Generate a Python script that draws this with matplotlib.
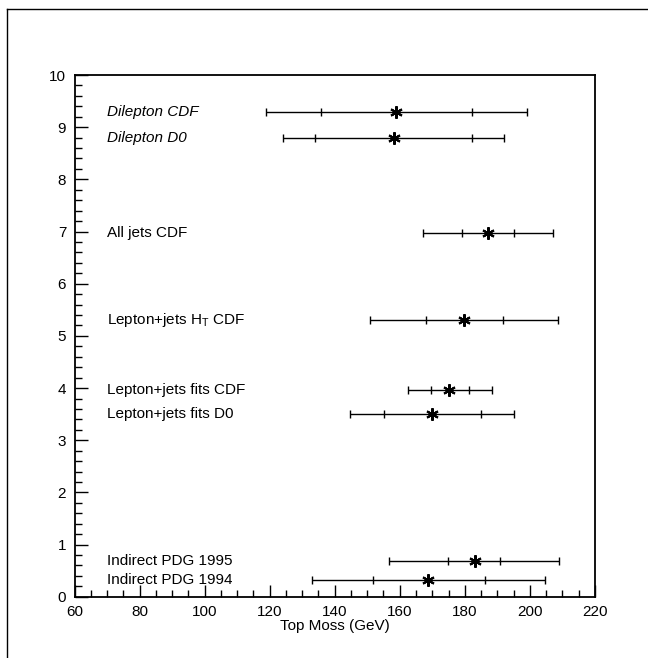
import matplotlib.pyplot as plt
from matplotlib.lines import Line2D
from matplotlib.ticker import MultipleLocator

plt.rcParams['font.family'] = ['Liberation Sans', 'DejaVu Sans']

# top mass measurements: central value, inner (stat) and outer (total) errors
labels = ['Dilepton CDF', 'Dilepton D0', 'All jets CDF',
          'Lepton+jets H$_\\mathregular{T}$ CDF',
          'Lepton+jets fits CDF', 'Lepton+jets fits D0',
          'Indirect PDG 1995', 'Indirect PDG 1994']
label_style = ['italic', 'italic', 'normal', 'normal',
               'normal', 'normal', 'normal', 'normal']
y_pos = [9.3, 8.8, 6.98, 5.3, 3.97, 3.5, 0.68, 0.32]
mass = [159.0, 158.2, 187.2, 179.8, 175.3, 170.0, 183.0, 168.8]
inner_lo = [135.9, 134.0, 179.0, 168.0, 169.7, 155.1, 174.9, 151.8]
inner_hi = [182.1, 182.1, 195.1, 191.8, 181.2, 185.0, 190.8, 186.2]
outer_lo = [118.8, 124.0, 167.0, 150.8, 162.6, 144.8, 156.8, 133.1]
outer_hi = [199.2, 192.1, 207.1, 208.8, 188.4, 195.1, 208.9, 204.6]

fig = plt.figure(figsize=(6.48, 6.58), dpi=100)
ax = fig.add_axes([0.115, 0.093, 0.803, 0.793])

for i in range(len(labels)):
    y = y_pos[i]
    m = mass[i]
    ax.errorbar([m], [y], xerr=[[m - outer_lo[i]], [outer_hi[i] - m]],
                fmt='none', ecolor='black', elinewidth=1.0, capsize=3, capthick=1.0)
    ax.plot([inner_lo[i], inner_hi[i]], [y, y], '|', color='black', ms=6, mew=1.0)
    ax.plot([m], [y], marker=(6, 2, 0), color='black', ms=9, mew=1.5)
    ax.text(70, y, labels[i], fontsize=11, style=label_style[i],
            ha='left', va='center')

ax.set_xlim(60, 220)
ax.set_ylim(0, 10)
ax.xaxis.set_major_locator(MultipleLocator(20))
ax.xaxis.set_minor_locator(MultipleLocator(5))
ax.yaxis.set_major_locator(MultipleLocator(1))
ax.yaxis.set_minor_locator(MultipleLocator(0.2))
ax.tick_params(which='both', direction='in', top=False, right=False,
               labelsize=11, width=1.0)
ax.tick_params(which='major', length=9, pad=6)
ax.tick_params(which='minor', length=5)
for s in ax.spines.values():
    s.set_linewidth(1.3)
ax.set_xlabel('Top Moss (GeV)', fontsize=11, labelpad=0)

# page border
top = 1 - 9 / 658
left = 7 / 648
fig.add_artist(Line2D([left, 1], [top, top], color='black', lw=1.0))
fig.add_artist(Line2D([left, left], [0, top], color='black', lw=1.0))

fig.savefig('out.png', dpi=100)
